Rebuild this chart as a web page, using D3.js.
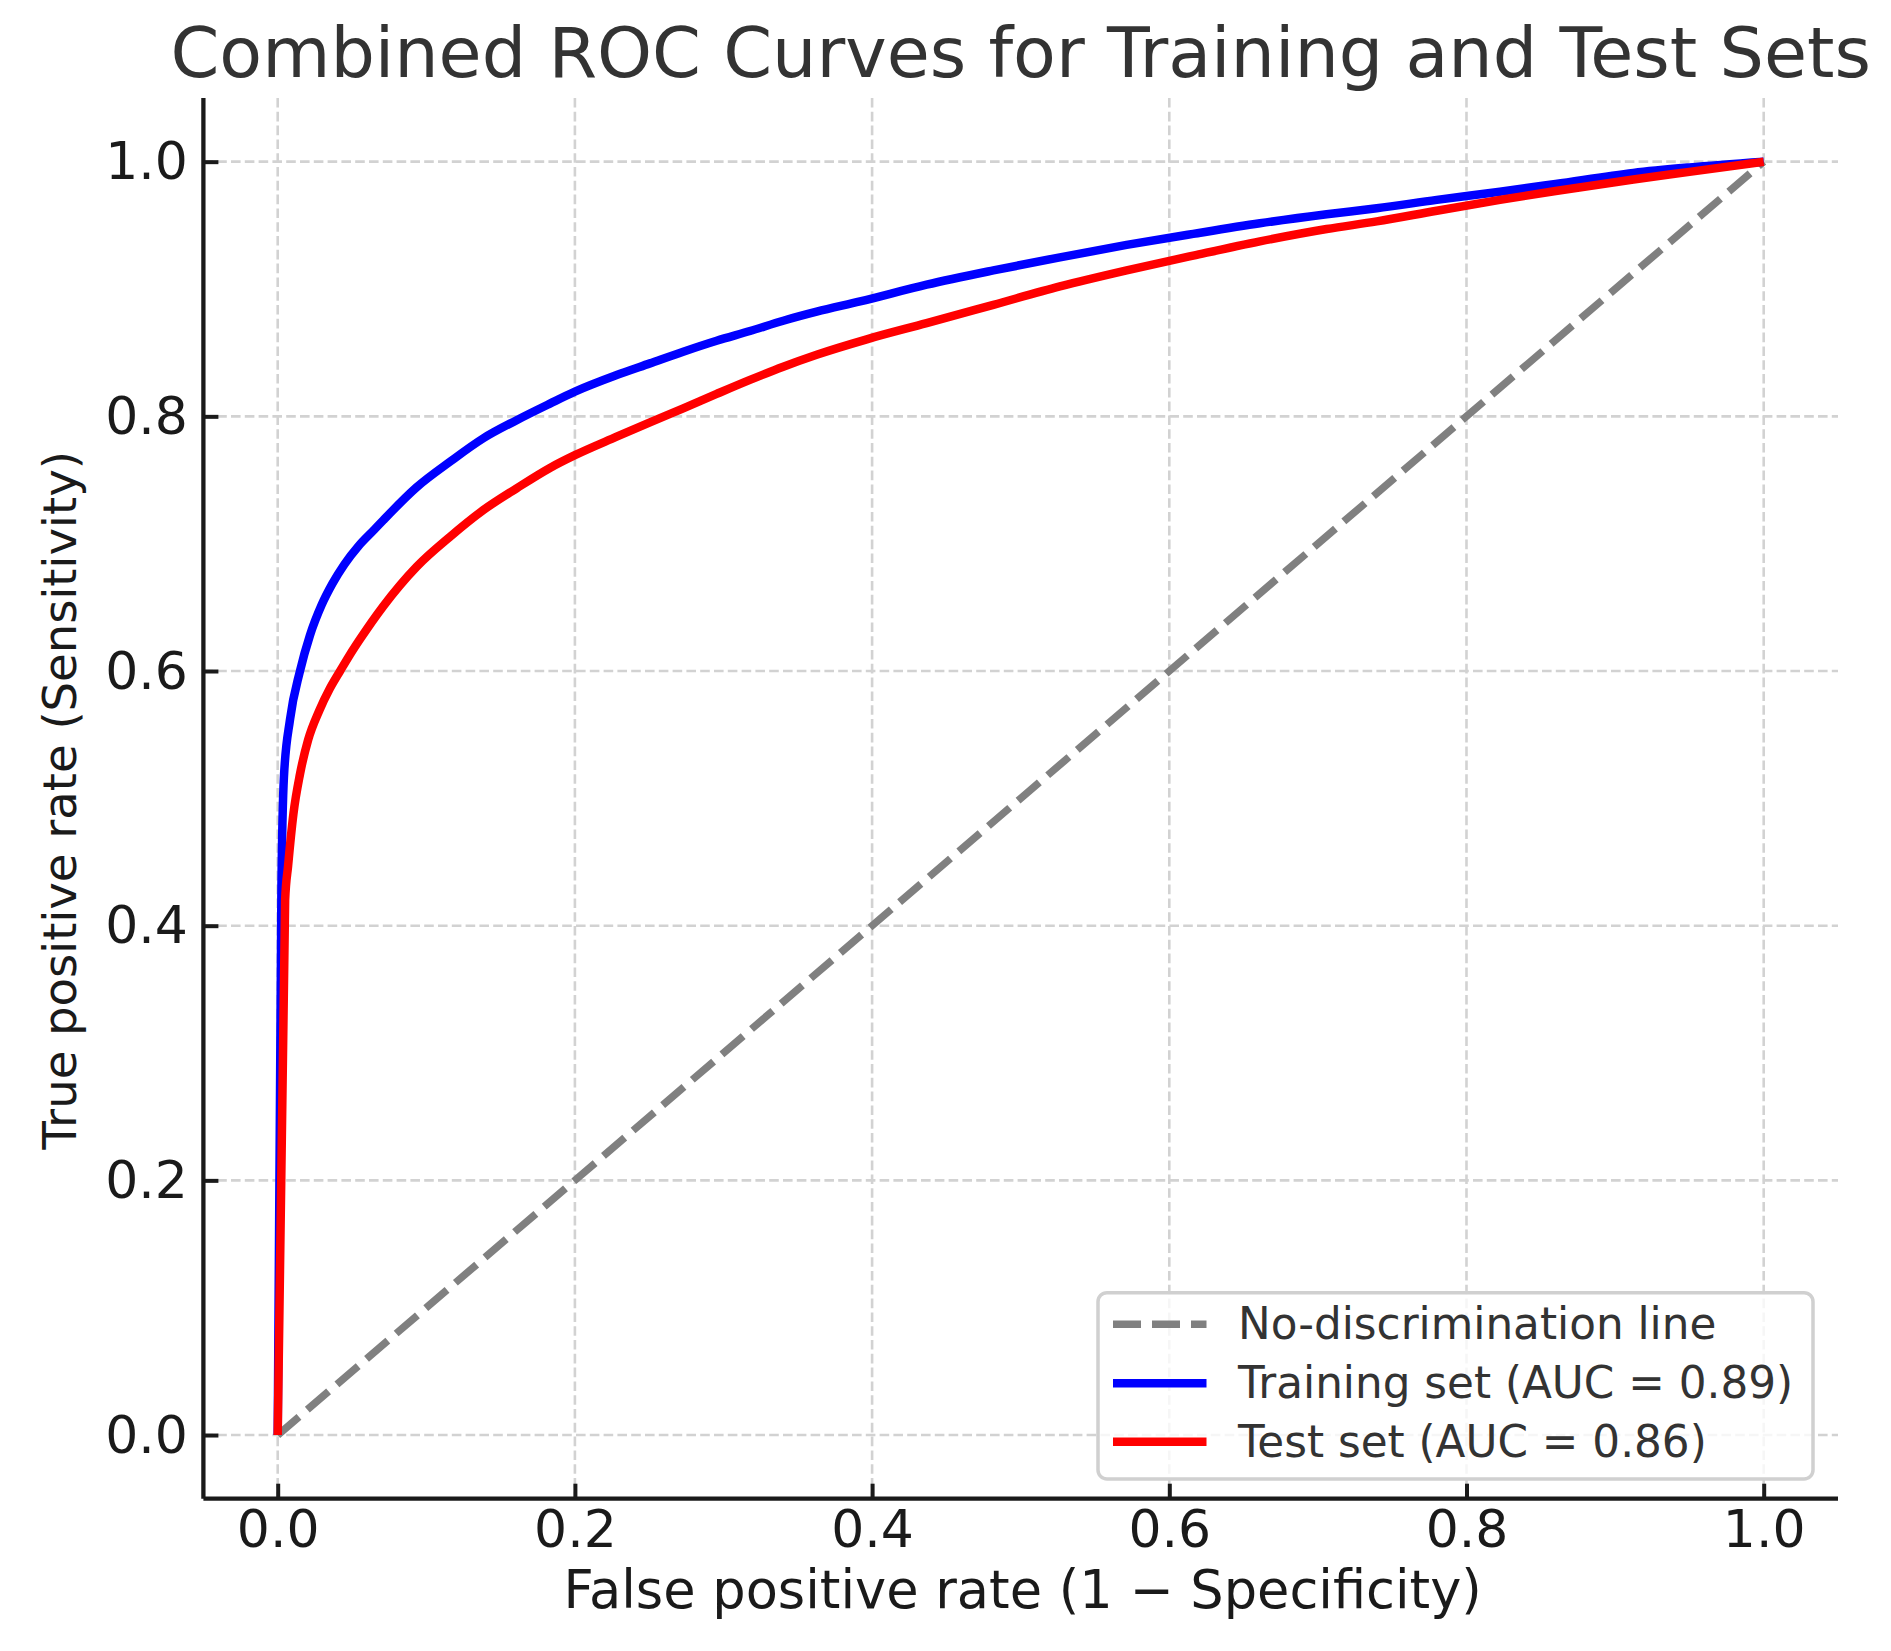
<!DOCTYPE html>
<html>
<head>
<meta charset="utf-8">
<script src="https://cdn.jsdelivr.net/npm/d3@7"></script>
<style>
  html, body { margin: 0; padding: 0; background: #ffffff; }
  svg { display: block; }
  text { font-family: "DejaVu Sans", sans-serif; }
</style>
</head>
<body>
<div id="chart"></div>
<script>
// ---- Data ----
const titleText = "Combined ROC Curves for Training and Test Sets";
const xLabelText = "False positive rate (1 \u2212 Specificity)";
const yLabelText = "True positive rate (Sensitivity)";
const tickValues = [0, 0.2, 0.4, 0.6, 0.8, 1.0];
const tickLabels = ["0.0", "0.2", "0.4", "0.6", "0.8", "1.0"];

const diagFpr = [0, 1];
const diagTpr = [0, 1];

const trainFpr = [0, 0.0025, 0.0042, 0.0083, 0.015, 0.0217, 0.0296, 0.037, 0.045, 0.0543, 0.065, 0.0711, 0.0935, 0.116, 0.1384, 0.1608, 0.1832, 0.2, 0.2281, 0.2505, 0.2729, 0.2954, 0.3178, 0.3402, 0.3627, 0.3919, 0.4367, 0.4816, 0.5264, 0.5713, 0.6161, 0.661, 0.7059, 0.7396, 0.78, 0.8225, 0.86, 0.9123, 0.95, 1];
const trainTpr = [0, 0.43, 0.517, 0.562, 0.600, 0.628, 0.652, 0.669, 0.684, 0.698, 0.711, 0.7185, 0.7443, 0.7644, 0.7828, 0.797, 0.810, 0.8194, 0.8324, 0.8416, 0.8508, 0.8594, 0.867, 0.8751, 0.8822, 0.8902, 0.9034, 0.9146, 0.9249, 0.9346, 0.9433, 0.9516, 0.9587, 0.9634, 0.970, 0.9764, 0.9825, 0.9912, 0.9955, 1];

const testFpr = [0, 0.005, 0.007, 0.0106, 0.015, 0.0205, 0.028, 0.035, 0.042, 0.0487, 0.0554, 0.0711, 0.0935, 0.116, 0.1384, 0.1608, 0.1832, 0.2, 0.2281, 0.2505, 0.2729, 0.2954, 0.3178, 0.3402, 0.3627, 0.3964, 0.4367, 0.4816, 0.5264, 0.5713, 0.6161, 0.661, 0.7059, 0.7396, 0.78, 0.8225, 0.86, 0.9123, 0.95, 1];
const testTpr = [0, 0.42, 0.447, 0.488, 0.519, 0.546, 0.569, 0.586, 0.600, 0.613, 0.625, 0.651, 0.6819, 0.7055, 0.7264, 0.7435, 0.7595, 0.7695, 0.784, 0.7953, 0.8063, 0.8176, 0.8286, 0.839, 0.8484, 0.8605, 0.8732, 0.8876, 0.902, 0.9146, 0.9262, 0.9374, 0.9471, 0.9531, 0.9615, 0.970, 0.977, 0.986, 0.992, 1];

const seriesNames = ["No-discrimination line", "Training set (AUC = 0.89)", "Test set (AUC = 0.86)"];
const seriesColors = ["#808080", "#0000ff", "#ff0000"];

// ---- Layout ----
const W = 1891, H = 1651;
const plot = { left: 203.4, right: 1838, top: 98, bottom: 1498.7 };

const svg = d3.select("#chart").append("svg")
  .attr("width", W).attr("height", H)
  .attr("viewBox", `0 0 ${W} ${H}`);

const x = d3.scaleLinear().domain([-0.05, 1.05]).range([plot.left, plot.right]);
const y = d3.scaleLinear().domain([-0.05, 1.05]).range([plot.bottom, plot.top]);

// Grid
const grid = svg.append("g").attr("class", "grid");
grid.selectAll("line.vg").data(tickValues).join("line")
  .attr("class", "vg")
  .attr("x1", d => x(d)).attr("x2", d => x(d))
  .attr("y1", plot.top).attr("y2", plot.bottom)
  .attr("stroke", "#d2d2d2").attr("stroke-width", 2.6)
  .attr("stroke-dasharray", "9.6,4.2");
grid.selectAll("line.hg").data(tickValues).join("line")
  .attr("class", "hg")
  .attr("x1", plot.left).attr("x2", plot.right)
  .attr("y1", d => y(d)).attr("y2", d => y(d))
  .attr("stroke", "#d2d2d2").attr("stroke-width", 2.6)
  .attr("stroke-dasharray", "9.6,4.2");

// Lines
const line = d3.line().x(d => x(d[0])).y(d => y(d[1]));
const smooth = d3.line().x(d => x(d[0])).y(d => y(d[1])).curve(d3.curveMonotoneX);

svg.append("path")
  .datum(diagFpr.map((v, i) => [v, diagTpr[i]]))
  .attr("d", line)
  .attr("fill", "none").attr("stroke", seriesColors[0])
  .attr("stroke-width", 7.5).attr("stroke-dasharray", "28,11");

svg.append("path")
  .datum(trainFpr.map((v, i) => [v, trainTpr[i]]))
  .attr("d", smooth)
  .attr("fill", "none").attr("stroke", seriesColors[1])
  .attr("stroke-width", 8.5).attr("stroke-linejoin", "round");

svg.append("path")
  .datum(testFpr.map((v, i) => [v, testTpr[i]]))
  .attr("d", smooth)
  .attr("fill", "none").attr("stroke", seriesColors[2])
  .attr("stroke-width", 8.5).attr("stroke-linejoin", "round");

// Axes
const axisColor = "#1a1a1a";
const xAxis = d3.axisBottom(x).tickValues(tickValues)
  .tickFormat((d, i) => tickLabels[i]).tickSizeInner(-15).tickSizeOuter(0).tickPadding(0);
const yAxis = d3.axisLeft(y).tickValues(tickValues)
  .tickFormat((d, i) => tickLabels[i]).tickSizeInner(-15).tickSizeOuter(0).tickPadding(0);

const gx = svg.append("g").attr("transform", `translate(0,${plot.bottom})`).call(xAxis);
const gy = svg.append("g").attr("transform", `translate(${plot.left},0)`).call(yAxis);

[gx, gy].forEach(g => {
  g.select(".domain").attr("stroke", axisColor).attr("stroke-width", 4.3);
  g.selectAll(".tick line").attr("stroke", axisColor).attr("stroke-width", 4);
  g.selectAll(".tick text")
    .attr("fill", axisColor)
    .style("font-family", "'DejaVu Sans', sans-serif")
    .style("font-size", "52px");
});
gx.select(".domain").attr("d", `M${plot.left},0H${plot.right}`);
gy.select(".domain").attr("d", `M0,${plot.bottom}V${plot.top}`);

gx.selectAll(".tick text").attr("y", 48).attr("dy", 0);
gy.selectAll(".tick text").attr("x", -15.5).attr("dy", 0).attr("y", 17)
  .attr("text-anchor", "end");

// Axis labels & title
const cx = (plot.left + plot.right) / 2;
svg.append("text")
  .attr("x", cx + 2).attr("y", 1608)
  .attr("text-anchor", "middle")
  .attr("fill", axisColor)
  .style("font-size", "52.6px")
  .text(xLabelText);

svg.append("text")
  .attr("transform", `translate(76,${(plot.top + plot.bottom) / 2 + 2}) rotate(-90)`)
  .attr("text-anchor", "middle")
  .attr("fill", axisColor)
  .style("font-size", "46.5px")
  .text(yLabelText);

svg.append("text")
  .attr("x", cx).attr("y", 77)
  .attr("text-anchor", "middle")
  .attr("fill", "#333333")
  .style("font-size", "70px")
  .text(titleText);

// Legend
const lg = { left: 1098, right: 1813, top: 1292.7, bottom: 1479 };
const legend = svg.append("g").attr("class", "legend");
legend.append("rect")
  .attr("x", lg.left).attr("y", lg.top)
  .attr("width", lg.right - lg.left).attr("height", lg.bottom - lg.top)
  .attr("rx", 9).attr("ry", 9)
  .attr("fill", "#ffffff").attr("fill-opacity", 0.8)
  .attr("stroke", "#d0d0d0").attr("stroke-width", 3.5);

const rowY = [1324.3, 1383.3, 1441.7];
const rows = legend.selectAll("g.row").data(seriesNames).join("g").attr("class", "row");
rows.append("line")
  .attr("x1", 1113).attr("x2", 1206.5)
  .attr("y1", (d, i) => rowY[i]).attr("y2", (d, i) => rowY[i])
  .attr("stroke", (d, i) => seriesColors[i])
  .attr("stroke-width", (d, i) => i === 0 ? 7.5 : 8.5)
  .attr("stroke-dasharray", (d, i) => i === 0 ? "28,11" : null);
rows.append("text")
  .attr("x", 1238).attr("y", (d, i) => rowY[i] + 15)
  .attr("fill", "#333333")
  .style("font-size", "43.7px")
  .text(d => d);
</script>
</body>
</html>
